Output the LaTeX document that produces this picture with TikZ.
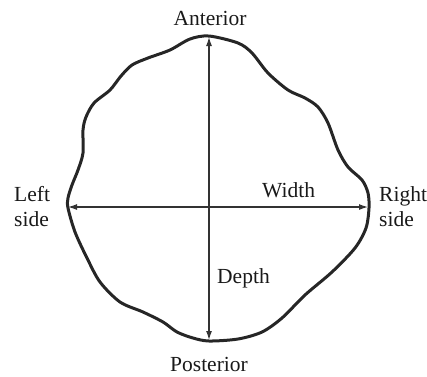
\documentclass[tikz,border=0pt]{standalone}
\usepackage{fontspec}
\setmainfont{Liberation Serif}
\usetikzlibrary{arrows.meta}
\begin{document}
\begin{tikzpicture}[x=1pt,y=-1pt,
  outline/.style={line width=3pt,line join=round,color=black!85},
  dim/.style={line width=1.2pt,color=black!80,{Latex[length=9pt,width=6pt]}-{Latex[length=9pt,width=6pt]}},
  lbl/.style={font=\fontsize{21.5}{25}\selectfont,inner sep=0pt,text=black!90}]
\useasboundingbox (0,0) rectangle (427,376);
\draw[outline] plot[smooth cycle,tension=0.5] coordinates {
(209,36) (238,43) (252,53) (268,73) (288,90) (305,98) (318,107) (328,123) (338,150) (348,167) (362,180) (368,193) (369,208) (366,228) (355,248) (332,272) (305,295) (282,318) (262,332) (238,339) (209,341) (193,338) (177,332) (163,322) (143,312) (120,302) (100,282) (87,258) (75,232) (68,208) (68,198) (72,185) (78,170) (83,153) (83,130) (86,117) (94,103) (110,90) (121,76) (132,65) (148,58) (170,50) (190,39)};
\coordinate (ant) at (209,37);
\coordinate (post) at (209,340);
\coordinate (lft) at (68,207);
\coordinate (rgt) at (368,207);
\draw[dim] (post) -- (ant);
\draw[dim] (lft) -- (rgt);
\node[lbl,anchor=base] (tA) at (210,25) {Anterior};
\node[lbl,anchor=base] (tP) at (209,371) {Posterior};
\node[lbl,anchor=base west] (tL1) at (14,201) {Left};
\node[lbl,anchor=base west] (tL2) at (14,226) {side};
\node[lbl,anchor=base west] (tR1) at (379,201) {Right};
\node[lbl,anchor=base west] (tR2) at (379,226) {side};
\node[lbl,anchor=base west] (tW) at (262,197) {Width};
\node[lbl,anchor=base west] (tD) at (217,283) {Depth};
\end{tikzpicture}
\end{document}
